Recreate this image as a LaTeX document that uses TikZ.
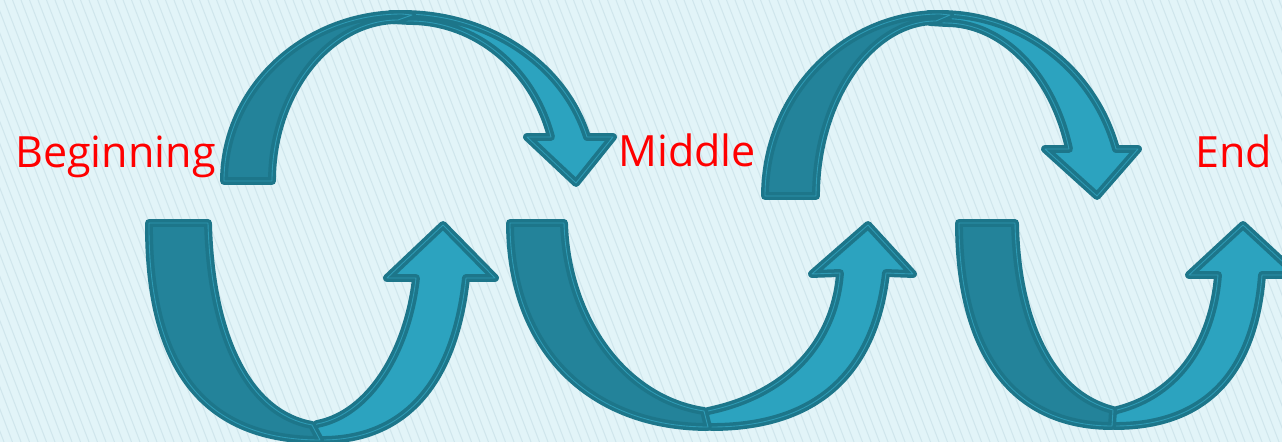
\documentclass[tikz,border=0pt]{standalone}
\usepackage{fontspec}
\newfontfamily\stagefont{Open Sans}
\definecolor{bgcol}{HTML}{E2F4F8}
\definecolor{stripecol}{HTML}{D0E6EC}
\definecolor{rimcol}{HTML}{1D768A}
\definecolor{darkcol}{HTML}{23839A}
\definecolor{lightcol}{HTML}{2CA3BF}
\definecolor{linecol}{HTML}{2E9AB4}

\begin{document}
\begin{tikzpicture}[x=0.02cm, y=-0.02cm,
    stripe/.style={draw=stripecol, line width=0.6pt},
    ribbon/.style={draw=rimcol, line width=2pt, double=linecol, double distance=0.5pt, line join=round},
    darkpart/.style={ribbon, fill=darkcol},
    lightpart/.style={ribbon, fill=lightcol},
    stagetext/.style={text=red, font=\stagefont\fontsize{24.5}{28}\selectfont, inner sep=0pt, anchor=base west}
  ]
  \useasboundingbox (0,0) rectangle (1282,442);
  \fill[bgcol] (0,0) rectangle (1282,442);
  \begin{scope}
    \clip (0,0) rectangle (1282,442);
    \foreach \sx in {-200,-191.5,...,1290}
      \draw[stripe] (\sx,0) -- ++(170,442);

    % upper arches
    \path[lightpart] (390,14) -- (402,14) .. controls (489,14) and (564,64) .. (587,137)
      -- (613,137) -- (576,183) -- (527,137) -- (551,137)
      .. controls (533,68) and (475,21) .. (410,21) -- (392,20) -- cycle;
    \path[darkpart] (224,181) .. controls (224,90) and (303,14) .. (402,14)
      -- (412,15) -- (398,20) .. controls (329,20) and (272,93) .. (272,181) -- cycle;

    \path[lightpart] (928,14) -- (940,14) .. controls (1022,14) and (1094,69) .. (1116,149)
      -- (1138,149) -- (1097,196) -- (1045,149) -- (1069,149)
      .. controls (1053,74) and (1002,23) .. (946,23) -- (930,22) -- cycle;
    \path[darkpart] (765,196) .. controls (765,96) and (843,14) .. (940,14)
      -- (950,15) -- (936,21) .. controls (870,21) and (816,101) .. (816,196) -- cycle;

    % lower bows
    \path[lightpart] (317,424) .. controls (370,414) and (408,350) .. (416,278)
      -- (387,278) -- (443,225) -- (495,278) -- (466,278)
      .. controls (454,389) and (400,440) .. (322,440) -- (300,437) -- cycle;
    \path[darkpart] (149,223) .. controls (148,370) and (206,440) .. (320,440)
      -- (312,425) .. controls (250,414) and (211,340) .. (208,223) -- cycle;

    \path[lightpart] (708,411) .. controls (790,394) and (835,340) .. (840,273)
      -- (812,274) -- (868,225) -- (913,274) -- (886,273)
      .. controls (874,379) and (810,427) .. (712,427) -- (690,423) -- cycle;
    \path[darkpart] (510,223) .. controls (510,350) and (591,427) .. (708,427)
      -- (704,411) .. controls (625,399) and (567,320) .. (564,223) -- cycle;

    \path[lightpart] (1117,410) .. controls (1180,394) and (1213,340) .. (1218,275)
      -- (1189,275) -- (1243,225) -- (1297,275) -- (1262,275)
      .. controls (1254,379) and (1200,426) .. (1115,426) -- (1095,422) -- cycle;
    \path[darkpart] (959,223) .. controls (959,350) and (1011,426) .. (1112,426)
      -- (1113,410) .. controls (1050,394) and (1017,320) .. (1015,223) -- cycle;
  \end{scope}

  \node[stagetext] (begin) at (15,168) {Beginning};
  \node[stagetext] (middle) at (618,167) {Middle};
  \node[stagetext] (finish) at (1195,168) {End};
\end{tikzpicture}
\end{document}
